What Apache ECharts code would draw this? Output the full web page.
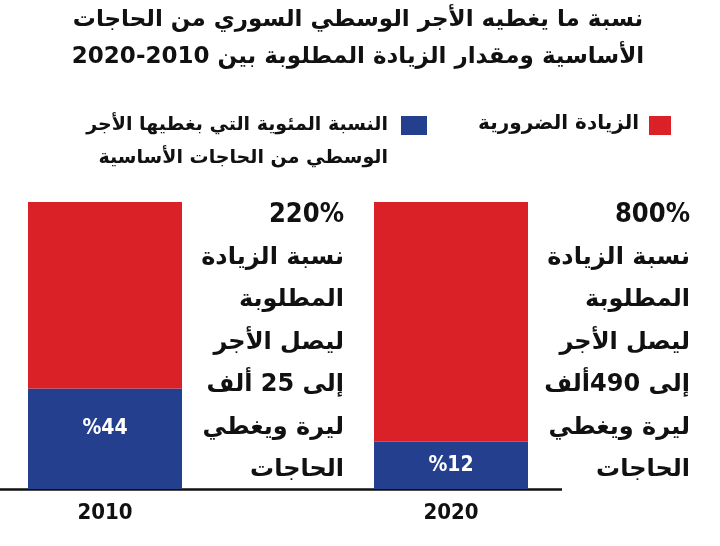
<!DOCTYPE html>
<html>
<head>
<meta charset="utf-8">
<script src="https://cdn.jsdelivr.net/npm/echarts@6/dist/echarts.min.js"></script>
<style>
  html, body { margin: 0; padding: 0; background: #fff; }
  #chart { width: 720px; height: 546px; }
</style>
</head>
<body>
<div id="chart"></div>
<script>
// data (bar heights as drawn, labels as printed)
var years = ['2010', '2020'];
var coveredShare = [35, 16.5];       // blue part, as drawn
var neededShare = [65, 83.5];        // red part, up to the top
var coveredLabels = ['%44', '%12'];
var notes2010 = ['220%', 'نسبة الزيادة', 'المطلوبة', 'ليصل الأجر', 'إلى 25 ألف', 'ليرة ويغطي', 'الحاجات'];
var notes2020 = ['800%', 'نسبة الزيادة', 'المطلوبة', 'ليصل الأجر', 'إلى 490ألف', 'ليرة ويغطي', 'الحاجات'];
var titleLines = ['نسبة ما يغطيه الأجر الوسطي السوري من الحاجات', 'الأساسية ومقدار الزيادة المطلوبة بين 2010-2020'];
var legendRed = 'الزيادة الضرورية';
var legendBlue = 'النسبة المئوية التي بغطيها الأجر\nالوسطي من الحاجات الأساسية';

var RED = '#da2128';
var BLUE = '#253f8f';
var AR_FONT = '"DejaVu Sans", sans-serif';
var NUM_FONT = '"DejaVu Sans Condensed", "DejaVu Sans", sans-serif';

var myChart = echarts.init(document.getElementById('chart'));

// the 2010 label sits a bit above the middle of its block
var labelShift = [-10, 0];

var option = {
    animation: false,
    grid: {
        left: 105,
        right: 269,
        top: 202,
        bottom: 57
    },
    xAxis: {
        type: 'category',
        data: years,
        boundaryGap: false,
        axisLine: {show: false},
        axisTick: {show: false},
        axisLabel: {
            margin: 13,
            color: '#111',
            fontFamily: NUM_FONT,
            fontWeight: 'bold',
            fontSize: 22
        }
    },
    yAxis: {
        type: 'value',
        min: 0,
        max: 100,
        show: false
    },
    series: [
        {
            name: 'covered',
            type: 'bar',
            stack: 'all',
            clip: false,
            barWidth: 154,
            data: coveredShare.map(function (v, i) {
                return {value: v, label: {offset: [0, labelShift[i]]}};
            }),
            itemStyle: {color: BLUE},
            label: {
                show: true,
                position: 'inside',
                color: '#fff',
                fontFamily: NUM_FONT,
                fontWeight: 'bold',
                fontSize: 21,
                formatter: function (p) {
                    return coveredLabels[p.dataIndex];
                }
            }
        },
        {
            name: 'needed',
            type: 'bar',
            stack: 'all',
            clip: false,
            barWidth: 154,
            data: neededShare,
            itemStyle: {color: RED}
        }
    ]
};

myChart.setOption(option);

// title, legend, axis line and side notes
var g = [];
titleLines.forEach(function (t, i) {
    g.push({
        type: 'text', x: 358, y: 20 + i * 37,
        style: {
            text: t, fill: '#111', align: 'center', verticalAlign: 'middle',
            font: 'bold 23px ' + AR_FONT
        }
    });
});

g.push({type: 'rect', shape: {x: 649, y: 116, width: 22, height: 19}, style: {fill: RED}});
g.push({
    type: 'text', x: 639, y: 124,
    style: {text: legendRed, fill: '#111', align: 'right', verticalAlign: 'middle', font: 'bold 20px ' + AR_FONT}
});
g.push({type: 'rect', shape: {x: 401, y: 116, width: 26, height: 19}, style: {fill: BLUE}});
g.push({
    type: 'text', x: 388, y: 109,
    style: {text: legendBlue, fill: '#111', align: 'right', verticalAlign: 'top', lineHeight: 33, font: 'bold 19px ' + AR_FONT}
});

var baseY = myChart.convertToPixel({yAxisIndex: 0}, 0);
g.push({
    type: 'line',
    shape: {x1: 0, y1: baseY + 0.5, x2: 562, y2: baseY + 0.5},
    style: {stroke: '#111', lineWidth: 2.5}
});

[notes2010, notes2020].forEach(function (lines, k) {
    var cx = myChart.convertToPixel({xAxisIndex: 0}, years[k]);
    lines.forEach(function (t, i) {
        g.push({
            type: 'text', x: cx + 239, y: 215 + i * 42.5,
            style: {
                text: t, fill: '#111', align: 'right', verticalAlign: 'middle',
                font: 'bold ' + (i === 0 ? '27px ' + NUM_FONT : '24px ' + AR_FONT)
            }
        });
    });
});

myChart.setOption({graphic: g});
</script>
</body>
</html>
